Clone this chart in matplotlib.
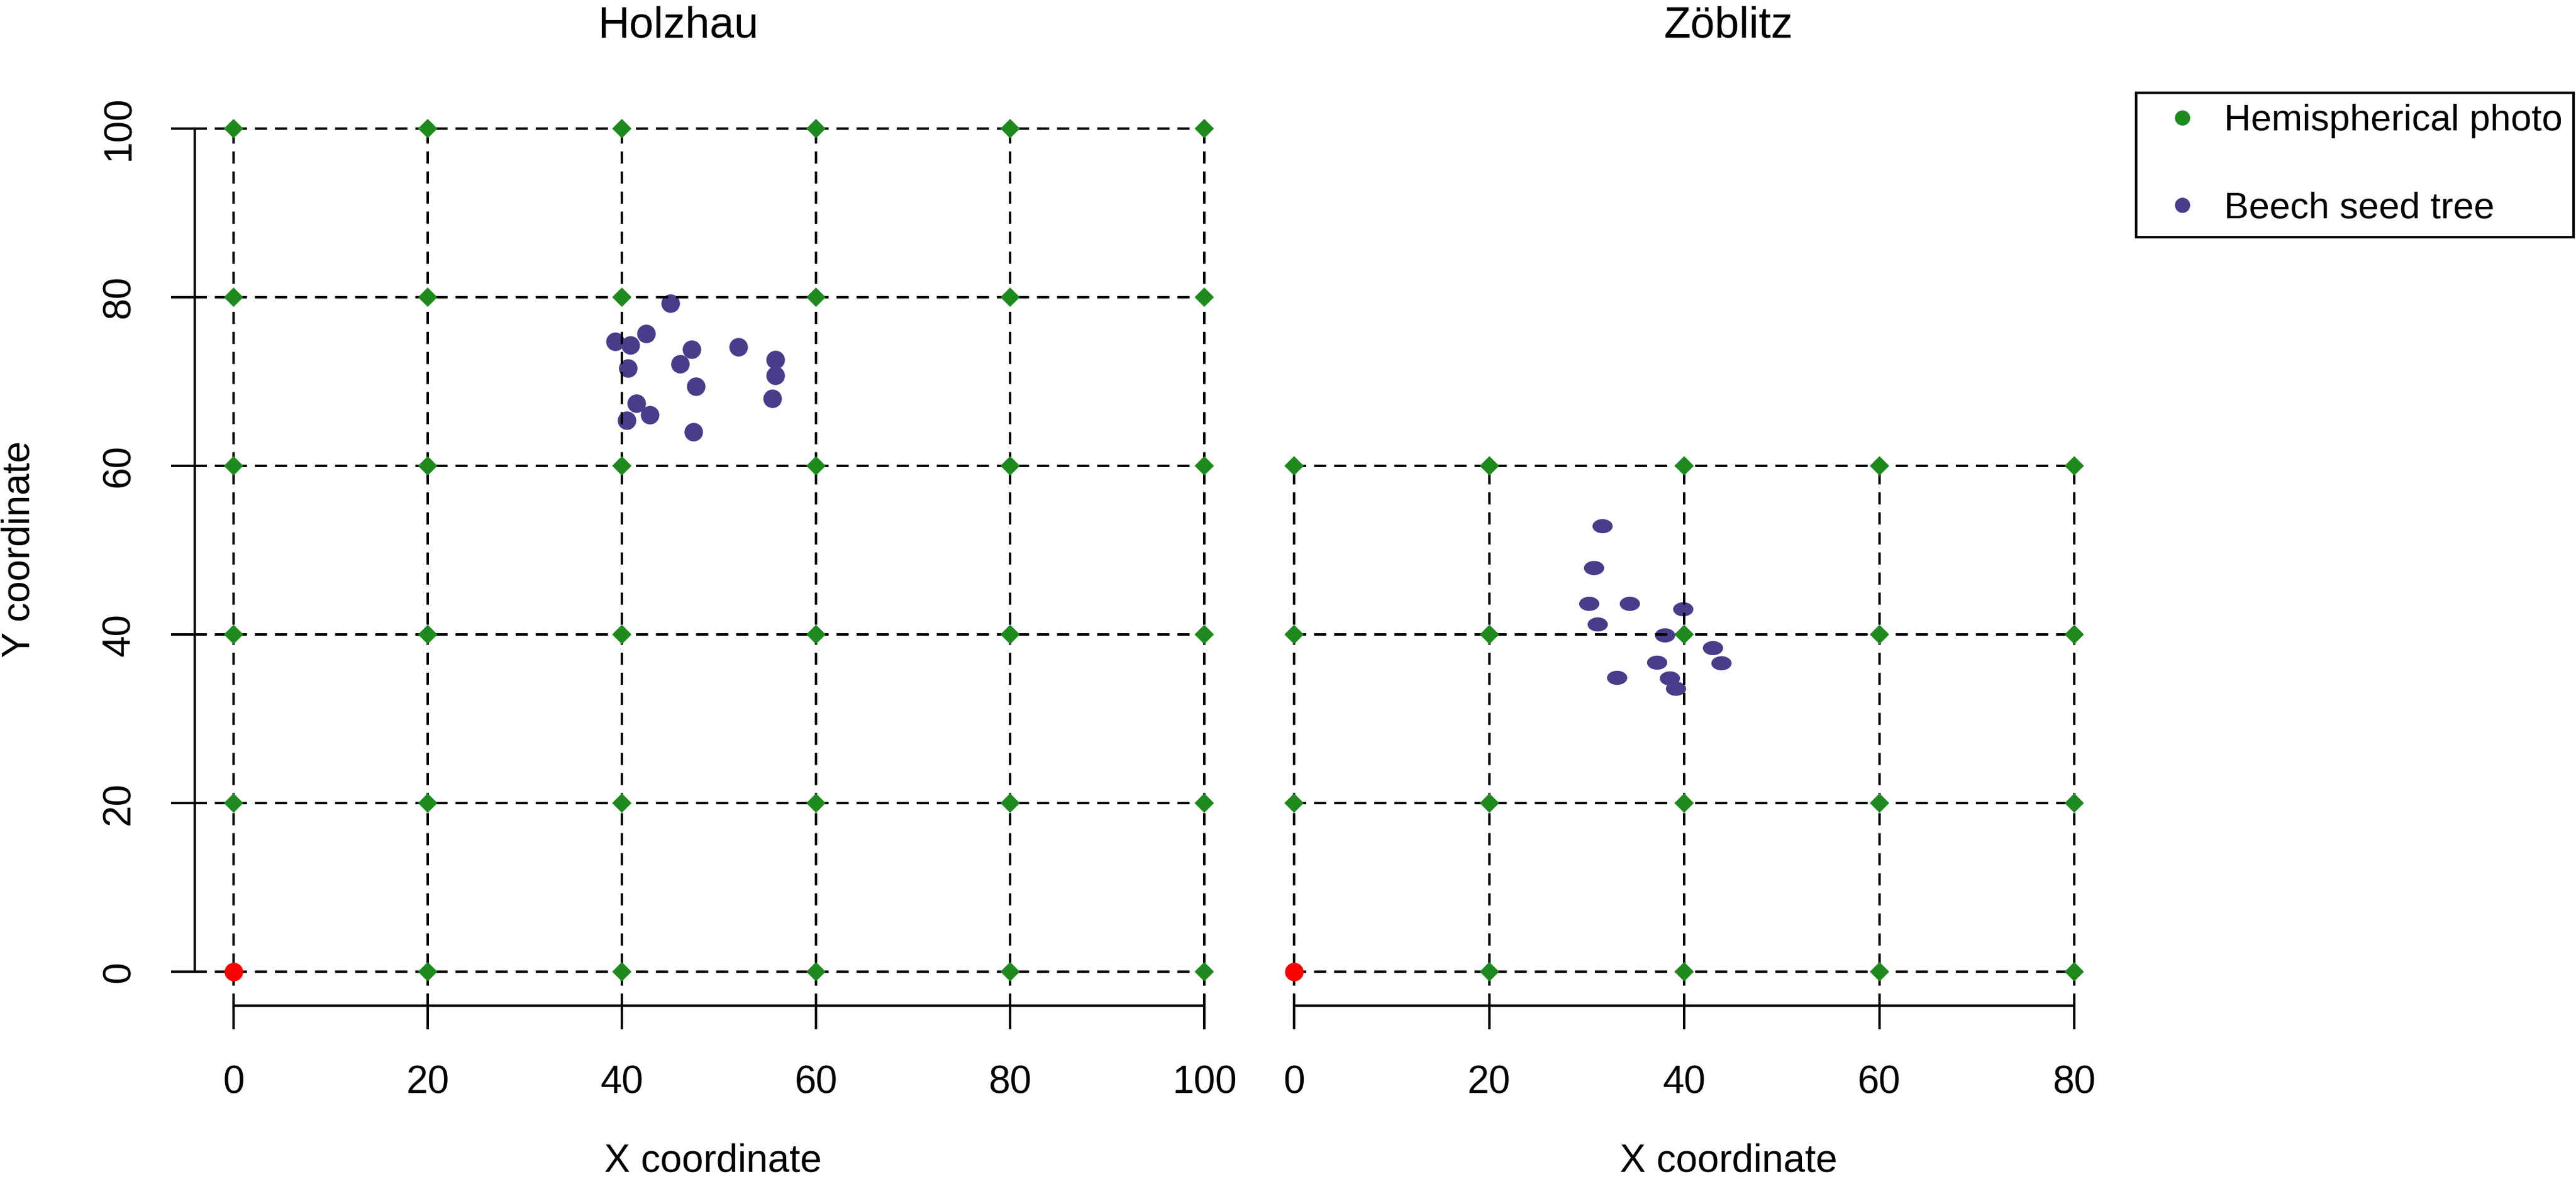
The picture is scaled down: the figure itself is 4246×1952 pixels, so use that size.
import numpy as np
import matplotlib
matplotlib.use("Agg")
from matplotlib import pyplot as plt
from matplotlib.path import Path
from matplotlib.lines import Line2D

plt.rcParams['font.family'] = ['Liberation Sans', 'DejaVu Sans']
plt.rcParams['lines.scale_dashes'] = False

# grid of hemispherical photos (m)
holz_grid_x = [0, 20, 40, 60, 80, 100]
holz_grid_y = [0, 20, 40, 60, 80, 100]
zob_grid_x = [0, 20, 40, 60, 80]
zob_grid_y = [0, 20, 40, 60]

# corner point of each plot (red)
origin_x = [0]
origin_y = [0]

# beech seed trees
holz_tree_x = [45.0, 42.5, 39.3, 40.9, 47.2, 52.0, 46.0, 55.8, 55.8, 40.6, 47.6, 55.5, 41.5, 42.9, 40.5, 47.4]
holz_tree_y = [79.3, 75.7, 74.7, 74.3, 73.8, 74.1, 72.1, 72.6, 70.7, 71.6, 69.4, 68.0, 67.4, 66.0, 65.4, 64.0]
zob_tree_x = [31.6, 30.7, 30.2, 34.4, 39.9, 31.1, 38.0, 42.9, 43.8, 37.2, 33.1, 38.5, 39.1]
zob_tree_y = [52.9, 47.9, 43.7, 43.7, 43.0, 41.2, 39.9, 38.4, 36.6, 36.7, 34.9, 34.8, 33.6]

VERDE = '#1e8a1e'
AZUL = '#483d8b'
ROJO = '#ff0000'

W, H = 4246, 1952
LW = 2.9
DASH = (14.4, 9.4)

# squashed dot for the Zöblitz trees
circ = Path.unit_circle()
ELIPSE = Path(circ.vertices * np.array([1.0, 0.7]), circ.codes)


def dibujar_parcela(ax, gx, gy, tx, ty, xlim, ylim, marca, ms_arbol, h_desde):
    ax.plot(tx, ty, linestyle='none', marker=marca, ms=ms_arbol, color=AZUL,
            markeredgewidth=0, zorder=2)
    for y in gy:
        ax.plot([h_desde, max(gx)], [y, y], color='black', lw=LW, dashes=DASH, zorder=3)
    for x in gx:
        ax.plot([x, x], [ylim[0], max(gy)], color='black', lw=LW, dashes=DASH, zorder=3)
    GX, GY = np.meshgrid(gx, gy)
    verde = ~((GX == origin_x[0]) & (GY == origin_y[0]))
    ax.plot(GX[verde], GY[verde], linestyle='none', marker='D', ms=16, color=VERDE,
            markeredgewidth=0, zorder=4)
    ax.plot(origin_x, origin_y, linestyle='none', marker='o', ms=22, color=ROJO,
            markeredgewidth=0, zorder=5)

    ax.set_xlim(xlim)
    ax.set_ylim(ylim)
    ax.spines['top'].set_visible(False)
    ax.spines['right'].set_visible(False)
    ax.spines['bottom'].set_bounds(min(gx), max(gx))
    ax.spines['bottom'].set_linewidth(LW)
    ax.spines['left'].set_linewidth(LW)
    ax.set_xticks(gx)
    ax.tick_params(axis='x', direction='out', length=28, width=LW, pad=42, labelsize=46)


fig = plt.figure(figsize=(W / 100, H / 100), dpi=100)

bottom = 1 - 1658 / H
height = (1658 - 156) / H
ax1 = fig.add_axes([321 / W, bottom, (2049 - 321) / W, height])
ax2 = fig.add_axes([2081.6 / W, bottom, (3470.5 - 2081.6) / W, height])

dibujar_parcela(ax1, holz_grid_x, holz_grid_y, holz_tree_x, holz_tree_y,
                (-4, 104), (-4, 104), 'o', 22, -4)
dibujar_parcela(ax2, zob_grid_x, zob_grid_y, zob_tree_x, zob_tree_y,
                (-3.2, 83.2), (-4, 104), ELIPSE, 24, 0)

ax1.spines['left'].set_bounds(min(holz_grid_y), max(holz_grid_y))
ax1.set_yticks(holz_grid_y)
ax1.tick_params(axis='y', direction='out', length=28, width=LW, pad=40, labelsize=46)
plt.setp(ax1.get_yticklabels(), rotation=90, va='center')

ax2.spines['left'].set_visible(False)
ax2.tick_params(axis='y', left=False, labelleft=False)

fig.text(1118 / W, 1 - 62 / H, "Holzhau", ha='center', va='baseline', fontsize=52)
fig.text(2849 / W, 1 - 62 / H, "Zöblitz", ha='center', va='baseline', fontsize=52)
fig.text(1175 / W, 1 - 1915 / H, "X coordinate", ha='center', va='center', fontsize=46)
fig.text(2849 / W, 1 - 1915 / H, "X coordinate", ha='center', va='center', fontsize=46)
fig.text(32 / W, 1 - 905 / H, "Y coordinate", ha='center', va='center', rotation=90, fontsize=46)

manejadores = [
    Line2D([], [], linestyle='none', marker='o', ms=18, color=VERDE, markeredgewidth=0),
    Line2D([], [], linestyle='none', marker='o', ms=18, color=AZUL, markeredgewidth=0),
]
leyenda = fig.legend(manejadores, ["Hemispherical photo", "Beech seed tree"],
                     loc='upper left', bbox_to_anchor=(3521 / W, 1 - 153 / H),
                     fontsize=44, frameon=True, fancybox=False, framealpha=1,
                     edgecolor='black', borderpad=0.3, handlelength=1.9,
                     handletextpad=0.17, labelspacing=1.43, borderaxespad=0)
leyenda.get_frame().set_linewidth(3)

fig.savefig("out.png", dpi=100, facecolor='white')
